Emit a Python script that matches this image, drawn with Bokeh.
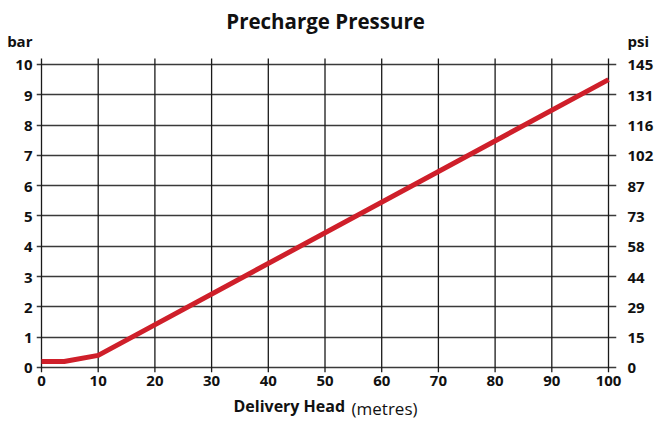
from bokeh.plotting import figure
from bokeh.models import Range1d, LinearAxis, FixedTicker, Label
from bokeh.embed import file_html
from bokeh.resources import INLINE

# Data
head_m = [0, 4, 10, 100]
pressure_bar = [0.2, 0.2, 0.4, 9.5]
x_ticks = [0, 10, 20, 30, 40, 50, 60, 70, 80, 90, 100]
bar_ticks = [0, 1, 2, 3, 4, 5, 6, 7, 8, 9, 10]
psi_labels = ["0", "15", "29", "44", "58", "73", "87", "102", "116", "131", "145"]
title_text = "Precharge Pressure"
x_title_bold = "Delivery Head"
x_title_unit = "(metres)"
left_unit = "bar"
right_unit = "psi"

FONT = "Open Sans"
RED = "#cf1f2a"
INK = "#111111"

# layout constants (positions, not data)
GRID_BOTTOM, GRID_TOP = -0.165, 10.2
UNIT_Y = 10.79
TITLE_X, TITLE_Y = 50.1, 11.45
XT_BOLD_X, XT_UNIT_X = 43.7, 60.5

p = figure(width=660, height=423, output_backend="svg", toolbar_location=None,
           x_range=Range1d(-0.882, 101.41), y_range=Range1d(GRID_BOTTOM, 12.11),
           min_border_left=36, min_border_right=44, min_border_top=0,
           min_border_bottom=51, outline_line_color=None)

# grid: horizontal via library grid, vertical limited to the chart box
p.xgrid.visible = False
p.ygrid.ticker = FixedTicker(ticks=bar_ticks)
p.ygrid.grid_line_color = "#3a3a3a"
p.ygrid.grid_line_width = 1.4
p.segment(x0=x_ticks, y0=[GRID_BOTTOM] * len(x_ticks), x1=x_ticks,
          y1=[GRID_TOP] * len(x_ticks), line_color="#1a1a1a", line_width=1.3)

p.line(head_m, pressure_bar, line_color=RED, line_width=5, line_join="round")


def style_axis(ax, size="15px", style="bold"):
    ax.axis_line_color = None
    ax.major_tick_line_color = None
    ax.minor_tick_line_color = None
    ax.major_tick_out = 0
    ax.major_tick_in = 0
    ax.major_label_text_font = FONT
    ax.major_label_text_font_style = style
    ax.major_label_text_font_size = size
    ax.major_label_text_color = INK


xa = p.xaxis[0]
style_axis(xa)
xa.ticker = FixedTicker(ticks=x_ticks)
xa.major_label_standoff = 3

ya = p.yaxis[0]
style_axis(ya)
ya.ticker = FixedTicker(ticks=bar_ticks + [UNIT_Y])
ya.major_label_overrides = {UNIT_Y: left_unit}
ya.major_label_standoff = 4

ra = LinearAxis(ticker=FixedTicker(ticks=bar_ticks + [UNIT_Y]),
                major_label_overrides={**{t: s for t, s in zip(bar_ticks, psi_labels)},
                                       UNIT_Y: right_unit})
style_axis(ra)
ra.major_label_standoff = 11
p.add_layout(ra, "right")

# x-axis title as two label-only axes on the same row
xt1 = LinearAxis(ticker=FixedTicker(ticks=[XT_BOLD_X]),
                 major_label_overrides={XT_BOLD_X: x_title_bold})
style_axis(xt1, size="16px", style="bold")
xt1.major_label_standoff = 6
p.add_layout(xt1, "below")

xt2 = LinearAxis(ticker=FixedTicker(ticks=[XT_UNIT_X]),
                 major_label_overrides={XT_UNIT_X: x_title_unit})
style_axis(xt2, size="17px", style="normal")
xt2.major_label_standoff = -23
p.add_layout(xt2, "below")

p.add_layout(Label(x=TITLE_X, y=TITLE_Y, text=title_text, text_align="center",
                   text_baseline="middle", text_font=FONT, text_font_style="bold",
                   text_font_size="20.5px", text_color=INK))

open("out.html", "w").write(file_html(p, INLINE))
